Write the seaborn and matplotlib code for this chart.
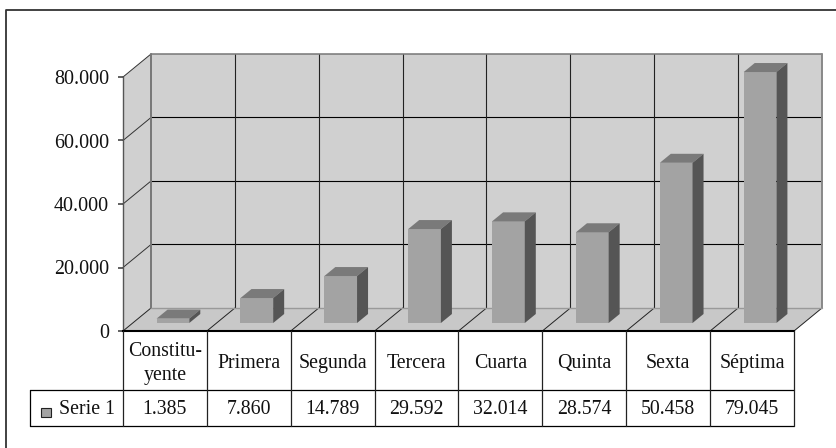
import matplotlib
matplotlib.use("Agg")
import matplotlib.pyplot as plt
import seaborn as sns
from matplotlib.patches import Polygon, Rectangle
from matplotlib.lines import Line2D
from matplotlib.transforms import IdentityTransform, Affine2D

categorias = ['Constitu-\nyente', 'Primera', 'Segunda', 'Tercera', 'Cuarta', 'Quinta', 'Sexta', 'Séptima']
valores = [1385, 7860, 14789, 29592, 32014, 28574, 50458, 79045]
etiquetas = ['1.385', '7.860', '14.789', '29.592', '32.014', '28.574', '50.458', '79.045']
yticks = [0, 20000, 40000, 60000, 80000]
yticklabels = ['0', '20.000', '40.000', '60.000', '80.000']
serie = 'Serie 1'

W, H = 837, 448
sns.set_theme(style='white')
plt.rcParams['font.family'] = ['Liberation Serif', 'DejaVu Serif']

fig = plt.figure(figsize=(W / 100, H / 100), dpi=100, facecolor='white')

# capa en pixeles para el marco y la tabla
capa = fig.add_axes([0, 0, 1, 1], zorder=5)
capa.set_xlim(0, W)
capa.set_ylim(H, 0)
capa.axis('off')

# plano frontal del grafico
x0, x1, y0, y1 = 123, 794, 331, 77
ax = fig.add_axes([x0 / W, (H - y0) / H, (x1 - x0) / W, (y0 - y1) / H], zorder=2)
ax.patch.set_visible(False)

sns.barplot(x=list(range(len(valores))), y=valores, color='#a3a3a3', saturation=1,
            width=0.39, ax=ax, zorder=3)
ax.set_xlim(-0.5, len(valores) - 0.5)
ax.set_ylim(0, 80000)
ax.set_xlabel('')
ax.set_ylabel('')
ax.set_xticks([])
ax.set_yticks(yticks)
ax.set_yticklabels(yticklabels, fontsize=14.4, color='#111111')
ax.tick_params(axis='y', left=True, length=3.6, width=1.3, color='#555555', pad=6.5)
for lado in ['top', 'right']:
    ax.spines[lado].set_visible(False)
ax.spines['left'].set_color('#555555')
ax.spines['left'].set_linewidth(1)
ax.spines['bottom'].set_color('black')
ax.spines['bottom'].set_linewidth(1.5)
ax.spines['bottom'].set_zorder(6)

fondo = (28, 23)  # profundidad de las paredes, px
barra_frente = (8, 8)
barra_fondo = (19, 17)


def pt(x, y, d=(0, 0)):
    px, py = ax.transData.transform((x, y))
    return (px + d[0], py + d[1])


def poly(puntos, color, z=1):
    ax.add_patch(Polygon(puntos, closed=True, facecolor=color, edgecolor='none',
                         transform=IdentityTransform(), clip_on=False, zorder=z))


def linea(a, b, color='black', lw=1.0, z=2):
    ax.add_line(Line2D([a[0], b[0]], [a[1], b[1]], color=color, lw=lw,
                       transform=IdentityTransform(), clip_on=False, zorder=z))


xa, xb = ax.get_xlim()
techo = yticks[-1]

# paredes y piso
poly([pt(xa, 0, fondo), pt(xb, 0, fondo), pt(xb, techo, fondo), pt(xa, techo, fondo)], '#d0d0d0')
poly([pt(xa, 0), pt(xa, 0, fondo), pt(xa, techo, fondo), pt(xa, techo)], '#d0d0d0')
poly([pt(xa, 0), pt(xb, 0), pt(xb, 0, fondo), pt(xa, 0, fondo)], '#c8c8c8')

# rejilla
for v in yticks[1:-1]:
    linea(pt(xa, v, fondo), pt(xb, v, fondo), lw=0.8)
for v in yticks[1:]:
    linea(pt(xa, v), pt(xa, v, fondo), color='#333333', lw=0.7)
for i in range(1, len(valores)):
    linea(pt(xa + i, 0, fondo), pt(xa + i, techo, fondo), color='#222222', lw=0.8)
for i in range(0, len(valores) + 1):
    linea(pt(xa + i, 0), pt(xa + i, 0, fondo), color='#222222', lw=0.7)

# bordes grises del fondo
linea(pt(xa, techo, fondo), pt(xb, techo, fondo), color='#777777', lw=1.1)
linea(pt(xa, 0, fondo), pt(xa, techo, fondo), color='#777777', lw=1.4)
linea(pt(xb, 0, fondo), pt(xb, techo, fondo), color='#888888', lw=1.4)
linea(pt(xa, 0, fondo), pt(xb, 0, fondo), color='#999999', lw=1.0)

# barras con efecto 3D
for barra in ax.patches:
    if not isinstance(barra, Rectangle):
        continue
    bx0, bx1 = barra.get_x(), barra.get_x() + barra.get_width()
    h = barra.get_height()
    barra.set_transform(ax.transData + Affine2D().translate(*barra_frente))
    barra.set_clip_on(False)
    barra.set_edgecolor('none')
    poly([pt(bx0, h, barra_frente), pt(bx1, h, barra_frente),
          pt(bx1, h, barra_fondo), pt(bx0, h, barra_fondo)], '#7a7a7a', z=3)
    poly([pt(bx1, 0, barra_frente), pt(bx1, 0, barra_fondo),
          pt(bx1, h, barra_fondo), pt(bx1, h, barra_frente)], '#555555', z=3)

# marco exterior: solo arriba y a la izquierda
capa.plot([6.5, 6.5, W], [H, 10, 10], color='#333333', lw=1.3, clip_on=False)

# tabla de datos
fila0, fila1, fila2 = y0, 390, 426
xleg = 30
ancho = (x1 - x0) / len(valores)
capa.plot([xleg, x1], [fila1, fila1], color='black', lw=0.9)
capa.plot([xleg, x1], [fila2, fila2], color='black', lw=0.9)
capa.plot([xleg, xleg], [fila1, fila2], color='black', lw=0.9)
for i in range(len(valores) + 1):
    xc = x0 + i * ancho
    capa.plot([xc, xc], [fila0, fila2], color='#222222', lw=0.9)
for i, (c, e) in enumerate(zip(categorias, etiquetas)):
    xc = x0 + (i + 0.5) * ancho
    capa.text(xc, (fila0 + fila1) / 2 + 3, c, ha='center', va='center', fontsize=14.3,
              color='#111111', linespacing=1.3)
    capa.text(xc, (fila1 + fila2) / 2 + 2, e, ha='center', va='center', fontsize=14.3,
              color='#111111')

capa.add_patch(Rectangle((41.5, 408), 9.5, 9.5, facecolor='#a3a3a3', edgecolor='#222222', lw=0.8))
capa.text(59, (fila1 + fila2) / 2 + 2, serie, ha='left', va='center', fontsize=14.3, color='#111111')

fig.savefig('out.png', dpi=100)
